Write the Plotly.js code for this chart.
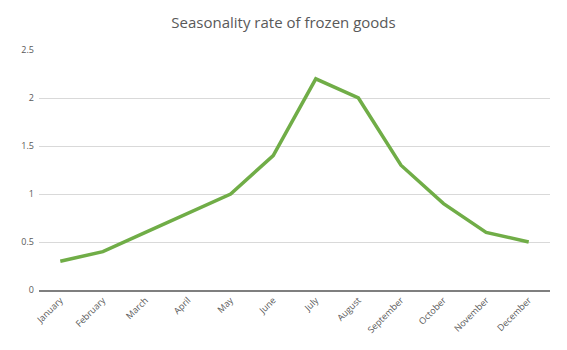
<!DOCTYPE html>
<html>
<head>
<meta charset="utf-8">
<script src="https://cdn.plot.ly/plotly-3.0.1.min.js"></script>
<style>html,body{margin:0;padding:0;background:#fff;}#chart{width:567px;height:350px;}</style>
</head>
<body>
<div id="chart"></div>
<script>
const months = ["January","February","March","April","May","June","July","August","September","October","November","December"];
const seasonality = [0.3, 0.4, 0.6, 0.8, 1.0, 1.4, 2.2, 2.0, 1.3, 0.9, 0.6, 0.5];
const yTicks = [0, 0.5, 1, 1.5, 2, 2.5];
const yTickText = ["0", "0.5", "1", "1.5", "2", "2.5"];

Plotly.newPlot("chart", [{
  x: months,
  y: seasonality,
  type: "scatter",
  mode: "lines",
  line: {color: "#70AD47", width: 3.5},
  hoverinfo: "x+y"
}], {
  width: 567,
  height: 350,
  margin: {l: 39, r: 17, t: 50, b: 60},
  paper_bgcolor: "#fff",
  plot_bgcolor: "#fff",
  font: {family: "Open Sans, sans-serif", color: "#595959"},
  title: {text: "Seasonality rate of frozen goods", x: 0.5, xanchor: "center", y: 0.935, yanchor: "middle",
          font: {size: 15, color: "#595959", family: "Open Sans, sans-serif"}},
  showlegend: false,
  xaxis: {
    type: "category",
    range: [-0.5, 11.5],
    showgrid: false,
    zeroline: false,
    showline: true,
    linecolor: "#7f7f7f",
    linewidth: 1.5,
    ticks: "",
    tickangle: -45,
    tickfont: {size: 9, color: "#595959"},
    fixedrange: true
  },
  yaxis: {
    range: [0, 2.5],
    tickvals: yTicks,
    ticktext: yTickText,
    showgrid: true,
    gridcolor: "#d9d9d9",
    gridwidth: 1,
    zeroline: false,
    showline: false,
    ticks: "",
    ticklabelstandoff: 4,
    tickfont: {size: 9, color: "#595959"},
    fixedrange: true
  }
}, {displayModeBar: false, staticPlot: true});
</script>
</body>
</html>
